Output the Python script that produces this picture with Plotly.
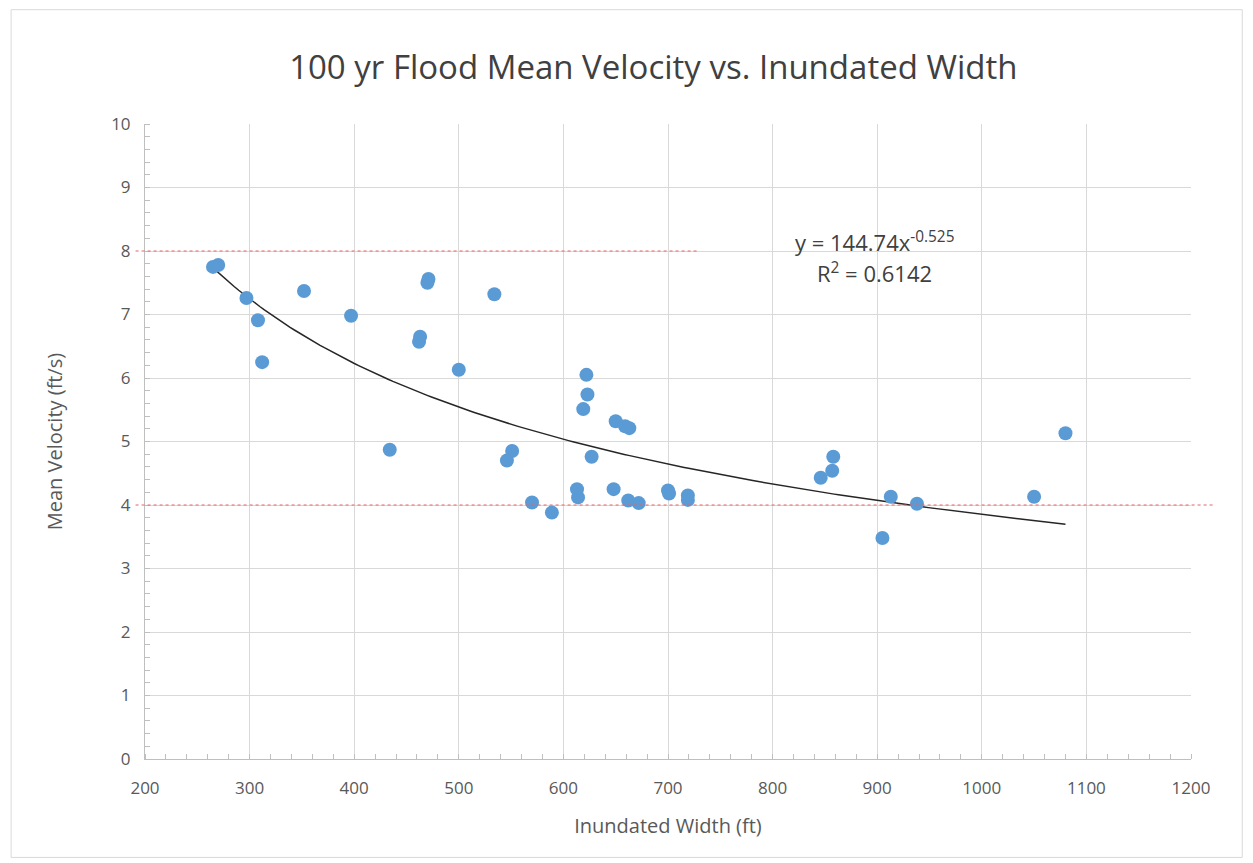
import numpy as np
import plotly.graph_objects as go

# ---- data ----
width_ft = [265, 270, 297, 308, 312, 352, 397, 434, 462, 463, 470, 471, 500, 534,
            546, 551, 570, 589, 613, 614, 619, 622, 623, 627, 648, 650, 659, 662,
            663, 672, 700, 701, 719, 719, 846, 857, 858, 905, 913, 938, 1050, 1080]
velocity_fps = [7.75, 7.78, 7.26, 6.91, 6.25, 7.37, 6.98, 4.87, 6.57, 6.65, 7.50, 7.56,
                6.13, 7.32, 4.70, 4.85, 4.04, 3.88, 4.25, 4.12, 5.51, 6.05, 5.74, 4.76,
                4.25, 5.32, 5.24, 4.07, 5.21, 4.03, 4.23, 4.18, 4.15, 4.08, 4.43, 4.54,
                4.76, 3.48, 4.13, 4.02, 4.13, 5.13]

# power trendline reported on the chart: y = a * x^b
trend_a = 144.74
trend_b = -0.525
trend_r2 = 0.6142

threshold_high = 8
threshold_low = 4

x_ticks = [200, 300, 400, 500, 600, 700, 800, 900, 1000, 1100, 1200]
y_ticks = [0, 1, 2, 3, 4, 5, 6, 7, 8, 9, 10]

FONT = "Open Sans"
GRID = "#d9d9d9"
TXT = "#595959"

tx = np.linspace(min(width_ft), max(width_ft), 200)
ty = trend_a * tx ** trend_b

fig = go.Figure()
fig.add_trace(go.Scatter(x=tx, y=ty, mode="lines",
                         line=dict(color="#262626", width=1.5),
                         hoverinfo="skip", showlegend=False))
fig.add_trace(go.Scatter(x=width_ft, y=velocity_fps, mode="markers",
                         marker=dict(color="#5b9bd5", size=14),
                         showlegend=False))

# threshold lines (extend slightly beyond plot area like the reference)
fig.add_shape(type="line", xref="paper", yref="y", x0=-0.009, x1=0.529,
              y0=threshold_high, y1=threshold_high,
              line=dict(color="#e06666", width=1, dash="dot"))
fig.add_shape(type="line", xref="paper", yref="y", x0=-0.009, x1=1.021,
              y0=threshold_low, y1=threshold_low,
              line=dict(color="#e06666", width=1, dash="dot"))

# chart-area border
fig.add_shape(type="rect", xref="paper", yref="paper",
              x0=-0.128, x1=1.049, y0=-0.155, y1=1.18,
              line=dict(color="#d9d9d9", width=1))

# trendline label (two lines)
fig.add_annotation(xref="x", yref="y", x=897, y=8.15, yanchor="middle",
                   text=f"y = {trend_a}x<sup>{trend_b}</sup>",
                   showarrow=False, align="center",
                   font=dict(family=FONT, size=22, color="#404040"))
fig.add_annotation(xref="x", yref="y", x=897, y=7.66, yanchor="middle",
                   text=f"R<sup>2</sup> = {trend_r2}",
                   showarrow=False, align="center",
                   font=dict(family=FONT, size=22, color="#404040"))

fig.update_layout(
    width=1253, height=863,
    margin=dict(l=137, r=70, t=116, b=112, autoexpand=False),
    paper_bgcolor="white", plot_bgcolor="white",
    font=dict(family=FONT, color=TXT),
    title=dict(text="100 yr Flood Mean Velocity vs. Inundated Width",
               x=0.515, xanchor="center", y=0.931, yanchor="middle",
               font=dict(family=FONT, size=33, color="#404040")),
)
fig.update_xaxes(range=[200, 1200], tickvals=x_ticks, showgrid=True, gridcolor=GRID,
                 zeroline=False, showline=True, linecolor="#bfbfbf", automargin=False,
                 ticks="", tickfont=dict(size=17, color=TXT), ticklabelstandoff=14,
                 minor=dict(ticks="inside", dtick=20, ticklen=5, tickcolor="#bfbfbf",
                            showgrid=False),
                 title=dict(text="Inundated Width (ft)",
                            font=dict(size=20, color=TXT), standoff=20))
fig.update_yaxes(range=[0, 10], tickvals=y_ticks, showgrid=True, gridcolor=GRID,
                 zeroline=False, showline=True, linecolor="#bfbfbf", automargin=False,
                 ticks="", tickfont=dict(size=17, color=TXT), ticklabelstandoff=10,
                 minor=dict(ticks="inside", dtick=0.2, ticklen=5, tickcolor="#bfbfbf",
                            showgrid=False),
                 title=dict(text="Mean Velocity (ft/s)",
                            font=dict(size=20, color=TXT), standoff=43))

fig.write_html("out.html")
